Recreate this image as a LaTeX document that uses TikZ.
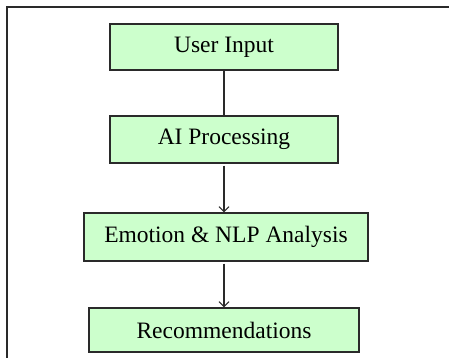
\documentclass[tikz,border=0pt]{standalone}
\usepackage{fontspec}
\setmainfont{Liberation Serif}
\usetikzlibrary{arrows.meta}
\definecolor{boxfill}{HTML}{CCFFCC}
\definecolor{edge}{HTML}{2A2A2A}
\begin{document}
\begin{tikzpicture}[x=1pt,y=-1pt,
  stepbox/.style={draw=edge,fill=boxfill,line width=1.3pt,inner sep=0pt,
    font=\fontsize{23.5}{26}\selectfont},
  link/.style={draw=edge,line width=1.1pt},
  flow/.style={link,-{Straight Barb[length=5pt,width=10pt,line width=1pt]}}]
\useasboundingbox (0,0) rectangle (449,357);
\begin{scope}
  \clip (0,0) rectangle (449,357);
  \draw[edge,line width=2pt] (7.3,7.3) rectangle (470,380);
\end{scope}
\node[stepbox,minimum width=228pt,minimum height=46pt] (ui) at (224,47) {User Input};
\node[stepbox,minimum width=228pt,minimum height=47pt] (ai) at (224,139.5) {AI Processing};
\node[stepbox,minimum width=284pt,minimum height=48pt] (em) at (226,237) {Emotion \& NLP Analysis};
\node[stepbox,minimum width=270pt,minimum height=44pt] (rec) at (224,330) {Recommendations};
\draw[link] (ui.south) -- (ai.north);
\draw[flow,shorten <=2pt] (ai.south) -- (ai.south |- em.north);
\draw[flow,shorten <=2pt] (em.south -| ai.south) -- (rec.north);
\end{tikzpicture}
\end{document}
